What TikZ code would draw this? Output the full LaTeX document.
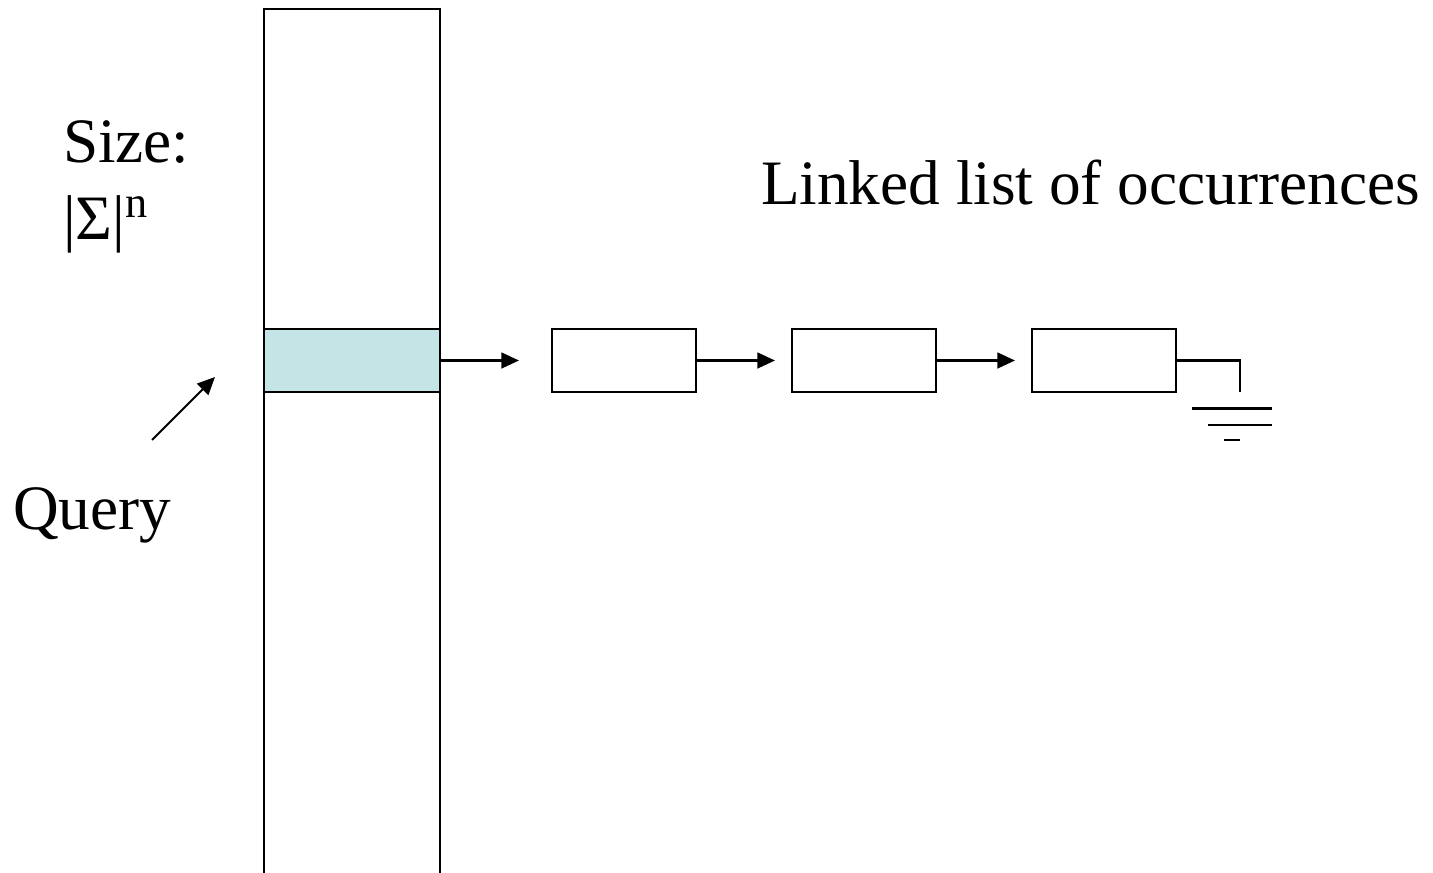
\documentclass[tikz,border=0pt]{standalone}
\usepackage{fontspec}
\setmainfont{Liberation Serif}
\usepackage{tikz}
\usetikzlibrary{calc,arrows.meta}
\definecolor{slotcyan}{RGB}{196,228,230}

\begin{document}
\begin{tikzpicture}[line width=0.6pt, font=\fontsize{18}{22}\selectfont,
    cell/.style={draw,rectangle,inner sep=0pt,minimum width=1.44cm,minimum height=0.63cm},
    link/.style={-{Triangle[length=5pt,width=4.5pt]}}]
  \useasboundingbox (0,0) rectangle (14.33,8.72);

  % hash table column and the slot a query lands in
  \node [draw,rectangle,inner sep=0pt,minimum width=1.76cm,minimum height=9.2cm] (table) at (3.52, 4.03) {};
  \node [draw,rectangle,inner sep=0pt,fill=slotcyan,minimum width=1.76cm,minimum height=0.63cm] (slot) at (3.52, 5.115) {};

  \node [cell] (c1) at ( 6.24, 5.115) {};
  \node [cell] (c2) at ( 8.64, 5.115) {};
  \node [cell] (c3) at (11.04, 5.115) {};
  \path [link,shorten >=0.32cm] (slot.east) edge (c1.west);
  \path [link,shorten >=0.16cm] (c1.east) edge (c2.west);
  \path [link,shorten >=0.16cm] (c2.east) edge (c3.west);

  % null pointer at the end of the list
  \coordinate (nil) at (12.40, 4.80);
  \draw (c3.east) -| (nil);
  \draw (11.92, 4.635) -- (12.72, 4.635)
        (12.08, 4.47) -- (12.72, 4.47)
        (12.24, 4.32) -- (12.40, 4.32);

  \node [anchor=base west,inner sep=0pt] (size) at (0.62, 7.09) {Size:};
  \node [anchor=base west,inner sep=0pt] (alph) at (0.62, 6.32) {|Σ|\textsuperscript{n}};
  \node [anchor=base west,inner sep=0pt] (list) at (7.60, 6.67) {Linked list of occurrences};
  \node [anchor=base west,inner sep=0pt] (query) at (0.12, 3.42) {Query};

  \coordinate (qtail) at (1.52, 4.32);
  \coordinate (qtip) at (2.15, 4.95);
  \draw [link] (qtail) -- (qtip);
\end{tikzpicture}
\end{document}
